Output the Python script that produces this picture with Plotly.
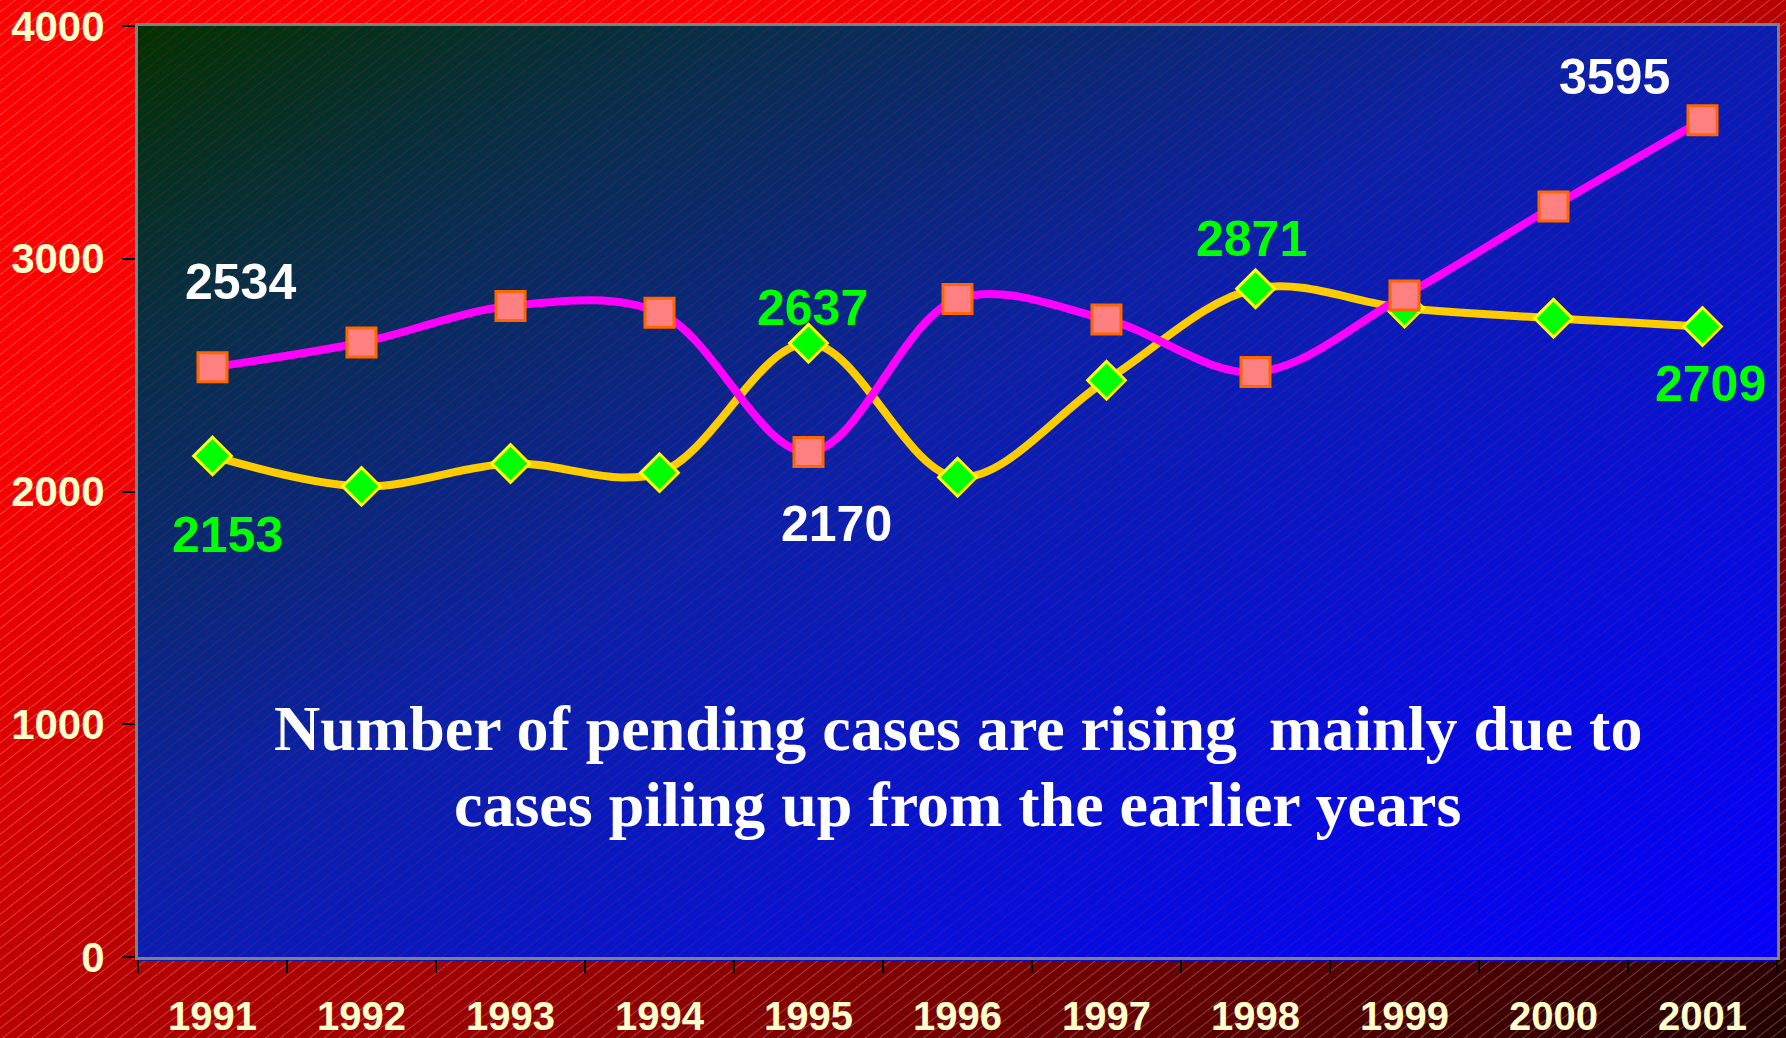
import base64
import plotly.graph_objects as go

# ---- data ----
years = ["1991", "1992", "1993", "1994", "1995", "1996", "1997", "1998", "1999", "2000", "2001"]
pending_cases = [2534, 2640, 2797, 2768, 2170, 2827, 2739, 2513, 2842, 3225, 3595]
other_cases = [2153, 2022, 2120, 2081, 2637, 2061, 2478, 2871, 2788, 2744, 2709]
y_ticks = [0, 1000, 2000, 3000, 4000]

# labelled points: (index, xshift, yshift)
pending_labels = [(0, 28, 85), (4, 28, -72), (10, -88, 43)]
other_labels = [(0, 15, -79), (4, 4, 35), (7, -4, 50), (10, 8, -58)]

note_line1 = "Number of pending cases are rising  mainly due to"
note_line2 = "cases piling up from the earlier years"

# ---- layout geometry ----
W, H = 1786, 1038
ML, MR, MT, MB = 138, 9, 26, 81
PW, PH = W - ML - MR, H - MT - MB

svg = f'''<svg xmlns="http://www.w3.org/2000/svg" width="{W}" height="{H}" viewBox="0 0 {W} {H}">
<defs>
<linearGradient id="bg" x1="0" y1="0" x2="1" y2="1">
<stop offset="0" stop-color="#FF0000"/>
<stop offset="0.2" stop-color="#FF0000"/>
<stop offset="0.4" stop-color="#D40000"/>
<stop offset="0.5" stop-color="#B80000"/>
<stop offset="0.6" stop-color="#A00000"/>
<stop offset="0.75" stop-color="#780000"/>
<stop offset="0.87" stop-color="#500000"/>
<stop offset="1" stop-color="#200000"/>
</linearGradient>
<linearGradient id="pa" x1="0" y1="0" x2="1" y2="1">
<stop offset="0" stop-color="#003300"/>
<stop offset="0.2" stop-color="#052F50"/>
<stop offset="0.45" stop-color="#0822A8"/>
<stop offset="0.7" stop-color="#0512D4"/>
<stop offset="1" stop-color="#0000FF"/>
</linearGradient>
<pattern id="h1" width="9" height="9" patternUnits="userSpaceOnUse" patternTransform="rotate(-38)">
<line x1="0" y1="0.5" x2="9" y2="0.5" stroke="#FFFFFF" stroke-opacity="0.25" stroke-width="1"/>
</pattern>
<pattern id="h2" width="9" height="9" patternUnits="userSpaceOnUse" patternTransform="rotate(-38)">
<line x1="0" y1="0.5" x2="9" y2="0.5" stroke="#FF0040" stroke-opacity="0.22" stroke-width="1"/>
</pattern>
</defs>
<rect x="0" y="0" width="{W}" height="{H}" fill="url(#bg)"/>
<rect x="0" y="0" width="{W}" height="{H}" fill="url(#h1)"/>
<rect x="{ML}" y="{MT}" width="{PW}" height="{PH + 4}" fill="url(#pa)"/>
<rect x="{ML}" y="{MT}" width="{PW}" height="{PH + 4}" fill="url(#h2)"/>
</svg>'''
svg_uri = "data:image/svg+xml;base64," + base64.b64encode(svg.encode()).decode()

fig = go.Figure()

fig.add_trace(go.Scatter(
    x=years, y=other_cases, mode="lines+markers", name="Cases",
    line=dict(color="#FFCC00", width=8, shape="spline", smoothing=1),
    marker=dict(symbol="diamond", size=29, color="#00FF00",
                line=dict(color="#FFFF00", width=3)),
    showlegend=False, hoverinfo="x+y",
))
fig.add_trace(go.Scatter(
    x=years, y=pending_cases, mode="lines+markers", name="Pending cases",
    line=dict(color="#FF00FF", width=8, shape="spline", smoothing=1),
    marker=dict(symbol="square", size=29, color="#FF8080",
                line=dict(color="#FF6600", width=3)),
    showlegend=False, hoverinfo="x+y",
))

label_font = dict(family="Liberation Sans, Arial, sans-serif", size=50)
annotations = []
for i, dx, dy in pending_labels:
    annotations.append(dict(x=i, y=pending_cases[i], xref="x", yref="y",
                            text=f"<b>{pending_cases[i]}</b>", showarrow=False,
                            xshift=dx, yshift=dy,
                            font=dict(color="#FFFFFF", **label_font)))
for i, dx, dy in other_labels:
    annotations.append(dict(x=i, y=other_cases[i], xref="x", yref="y",
                            text=f"<b>{other_cases[i]}</b>", showarrow=False,
                            xshift=dx, yshift=dy,
                            font=dict(color="#00FF00", **label_font)))

note_font = dict(family="Liberation Serif, Times New Roman, serif", size=64, color="#FFFFFF")
annotations.append(dict(x=0.5, y=0.205, xref="paper", yref="paper", showarrow=False,
                        text=f"<b>{note_line1}</b>", font=note_font))
annotations.append(dict(x=0.5, y=0.123, xref="paper", yref="paper", showarrow=False,
                        text=f"<b>{note_line2}</b>", font=note_font))

fig.update_layout(
    width=W, height=H,
    margin=dict(l=ML, r=MR, t=MT, b=MB, pad=0),
    paper_bgcolor="#B00000",
    plot_bgcolor="rgba(0,0,0,0)",
    images=[dict(source=svg_uri, xref="paper", yref="paper",
                 x=-ML / PW, y=1 + MT / PH, sizex=W / PW, sizey=H / PH,
                 xanchor="left", yanchor="top", sizing="stretch", layer="below")],
    annotations=annotations,
    xaxis=dict(
        type="category", range=[-0.5, len(years) - 0.5], automargin=False,
        showgrid=False, zeroline=False,
        showline=True, linecolor="#808080", linewidth=3, mirror=True,
        ticks="outside", tickson="boundaries", ticklen=13, tickcolor="#000000", tickwidth=1.5,
        tickfont=dict(family="Liberation Sans, Arial, sans-serif", size=40, color="#FFFFCC"),
        tickprefix="<b>", ticksuffix="</b>",
        ticklabelstandoff=22,
    ),
    yaxis=dict(
        range=[0, 4000], tickvals=y_ticks, automargin=False,
        ticktext=[f"<b>{v}</b>" for v in y_ticks],
        showgrid=False, zeroline=False,
        showline=True, linecolor="#808080", linewidth=3, mirror=True,
        ticks="outside", ticklen=13, tickcolor="#000000", tickwidth=1.5,
        tickfont=dict(family="Liberation Sans, Arial, sans-serif", size=42, color="#FFFFCC"),
        ticklabelstandoff=9,
    ),
)

fig.write_html("out.html", config={"displayModeBar": False},
               post_script="document.body.style.margin='0';document.body.style.overflow='hidden';")
